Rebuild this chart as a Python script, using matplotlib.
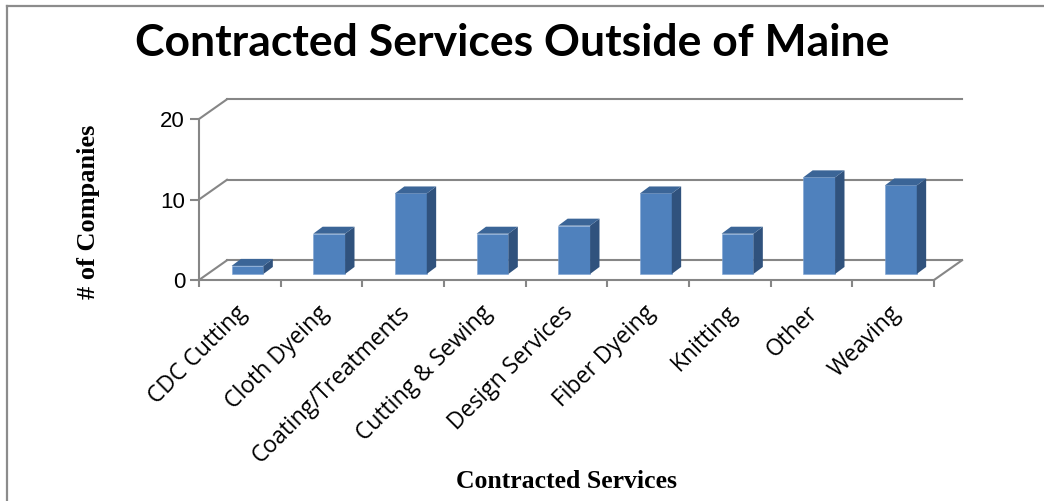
import matplotlib
matplotlib.use("Agg")
from matplotlib import pyplot as plt
from matplotlib.patches import Polygon
from matplotlib.lines import Line2D
from matplotlib.transforms import ScaledTranslation

categories = ["CDC Cutting", "Cloth Dyeing", "Coating/Treatments", "Cutting & Sewing",
              "Design Services", "Fiber Dyeing", "Knitting", "Other", "Weaving"]
companies = [1, 5, 10, 5, 6, 10, 5, 12, 11]
y_ticks = [0, 10, 20]

grey = "#868686"
front_col = "#4f81bd"
side_col = "#30527d"
top_col = "#3b6597"

# fake 3d: offset of the back wall and of the bars, in data units
depth_x, depth_y = 0.343, 2.45
bar_dx, bar_dy = 0.094, 0.75
bar_w = 0.39
bar_depth_x, bar_depth_y = 0.115, 0.87

fig = plt.figure(figsize=(10.44, 5.01), dpi=100)
ax = fig.add_axes([199 / 1044, 221 / 501, 735 / 1044, 161 / 501])
ax.set_xlim(0, len(categories))
ax.set_ylim(0, 20)

# back wall gridlines and left wall diagonals
for v in y_ticks:
    ax.add_line(Line2D([depth_x, len(categories) + depth_x], [v + depth_y, v + depth_y],
                       color=grey, lw=1.5, clip_on=False, zorder=1))
    ax.add_line(Line2D([0, depth_x], [v, v + depth_y], color=grey, lw=1.5,
                       clip_on=False, zorder=1))
# right edge of the floor
ax.add_line(Line2D([len(categories), len(categories) + depth_x], [0, depth_y],
                   color=grey, lw=1.5, clip_on=False, zorder=1))

# bars: front face, side and top
for i, v in enumerate(companies):
    x0 = i + 0.5 - bar_w / 2 + bar_dx
    x1 = x0 + bar_w
    y0 = bar_dy
    y1 = bar_dy + v
    ax.bar(x0, v, width=bar_w, bottom=y0, align="edge", color=front_col,
           edgecolor="#7ea3d3", linewidth=0.4, zorder=3, clip_on=False)
    ax.add_patch(Polygon([(x1, y0), (x1 + bar_depth_x, y0 + bar_depth_y),
                          (x1 + bar_depth_x, y1 + bar_depth_y), (x1, y1)],
                         closed=True, facecolor=side_col, edgecolor="none",
                         zorder=3, clip_on=False))
    ax.add_patch(Polygon([(x0, y1), (x1, y1), (x1 + bar_depth_x, y1 + bar_depth_y),
                          (x0 + bar_depth_x, y1 + bar_depth_y)],
                         closed=True, facecolor=top_col, edgecolor="none",
                         zorder=3, clip_on=False))

for side in ["top", "right"]:
    ax.spines[side].set_visible(False)
for side in ["left", "bottom"]:
    ax.spines[side].set_color(grey)
    ax.spines[side].set_linewidth(1.5)
ax.patch.set_visible(False)

ax.set_yticks(y_ticks)
ax.set_yticklabels([str(v) for v in y_ticks], fontsize=16, family="Liberation Sans")
ax.tick_params(axis="y", length=6.5, width=1.5, color=grey, pad=3.5)

ax.set_xticks(range(len(categories) + 1))
ax.set_xticklabels([])
ax.tick_params(axis="x", which="major", length=5, width=1.5, color=grey)
ax.set_xticks([i + 0.5 for i in range(len(categories))], minor=True)
ax.set_xticklabels(categories, minor=True, rotation=45, ha="right",
                   rotation_mode="anchor", fontsize=16.5, family="Open Sans")
ax.tick_params(axis="x", which="minor", length=0, pad=15)
# nudge the slanted labels a little to the left
shift = ScaledTranslation(-5 / 100, 0, fig.dpi_scale_trans)
for lbl in ax.get_xticklabels(minor=True):
    lbl.set_transform(lbl.get_transform() + shift)

fig.text(88 / 1044, 1 - 212 / 501, "# of Companies", rotation=90, ha="center",
         va="center", fontsize=19, family="Liberation Serif", fontweight="bold")
fig.text(566 / 1044, 1 - 481 / 501, "Contracted Services", ha="center", va="center",
         fontsize=18.5, family="Liberation Serif", fontweight="bold")
fig.text(512 / 1044, 1 - 43 / 501, "Contracted Services Outside of Maine",
         ha="center", va="center", fontsize=32, family="Lato", fontweight="bold")

# chart border (top and left edges)
fig.add_artist(Line2D([7 / 1044, 1], [1 - 6 / 501, 1 - 6 / 501], color="#8c8c8c", lw=1.6))
fig.add_artist(Line2D([7 / 1044, 7 / 1044], [0, 1 - 6 / 501], color="#8c8c8c", lw=1.6))

fig.savefig("out.png", dpi=100)
